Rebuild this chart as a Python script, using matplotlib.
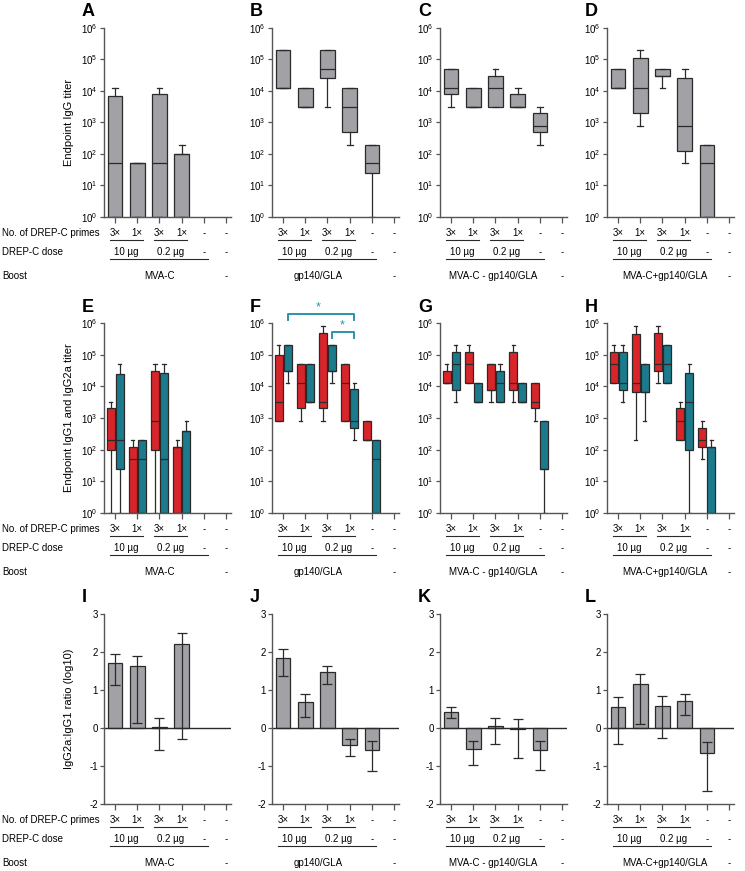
import matplotlib
matplotlib.use("Agg")
import matplotlib.pyplot as plt
import matplotlib.transforms as mtransforms
from matplotlib.ticker import LogLocator, NullLocator, FixedLocator

plt.rcParams["font.family"] = ["Liberation Sans", "DejaVu Sans"]
plt.rcParams["axes.unicode_minus"] = False

W, H = 745, 871

GRAY = "#a2a2a6"
RED = "#d9252a"
TEAL = "#1b7b8d"
SIG = "#2b95a8"
EDGE = "#2a2a2a"
AXC = "#555555"

# category labels under each panel
primes = ["3×", "1×", "3×", "1×", "-", "-"]
doses = ["10 µg", "0.2 µg", "-", "-"]
dose_pos = [0.5, 2.5, 4, 5]
boosts = ["MVA-C", "gp140/GLA", "MVA-C - gp140/GLA", "MVA-C+gp140/GLA"]
boost_pos = [2.0, 1.6, 1.9, 2.1]
letters = ["A", "B", "C", "D", "E", "F", "G", "H", "I", "J", "K", "L"]

# row 1: total IgG titer, (low, q1, median, q3, high) per group
A_igg = [(1, 1, 50, 7000, 12500), (1, 1, 50, 50, 50), (1, 1, 50, 8000, 12500),
         (1, 1, 100, 100, 200), None, None]
B_igg = [(12500, 12500, 12500, 200000, 200000), (3125, 3125, 3125, 12500, 12500),
         (3125, 25000, 50000, 200000, 200000), (200, 500, 3125, 12500, 12500),
         (1, 25, 50, 200, 200), None]
C_igg = [(3125, 7800, 12500, 50000, 50000), (3125, 3125, 3125, 12500, 12500),
         (3125, 3125, 12500, 31000, 50000), (3125, 3125, 3125, 7800, 12500),
         (200, 500, 800, 2000, 3125), None]
D_igg = [(12500, 12500, 12500, 50000, 50000), (800, 2000, 12500, 110000, 200000),
         (12500, 31000, 31000, 50000, 50000), (50, 125, 800, 25000, 50000),
         (1, 1, 50, 200, 200), None]

# row 2: IgG1 (red) and IgG2a (teal) titers
E_igg1 = [(1, 100, 200, 2000, 3125), (1, 1, 50, 125, 200), (1, 100, 800, 31000, 50000),
          (1, 1, 125, 125, 200), None, None]
E_igg2a = [(1, 25, 200, 25000, 50000), (1, 1, 50, 200, 200), (1, 1, 50, 27000, 50000),
           (1, 1, 400, 400, 800), None, None]
F_igg1 = [(800, 800, 3125, 100000, 200000), (800, 2000, 12500, 50000, 50000),
          (800, 2000, 3125, 500000, 800000), (800, 800, 12500, 50000, 50000),
          (200, 200, 200, 800, 800), None]
F_igg2a = [(12500, 31000, 31000, 200000, 200000), (3125, 3125, 3125, 50000, 50000),
           (12500, 31000, 31000, 200000, 200000), (200, 500, 800, 8000, 12500),
           (1, 1, 50, 200, 200), None]
G_igg1 = [(12500, 12500, 12500, 31000, 50000), (12500, 12500, 50000, 125000, 200000),
          (3125, 7800, 7800, 50000, 50000), (3125, 7800, 12500, 125000, 200000),
          (800, 2000, 3125, 12500, 12500), None]
G_igg2a = [(3125, 7800, 50000, 125000, 200000), (3125, 3125, 3125, 12500, 12500),
           (3125, 3125, 12500, 31000, 50000), (3125, 3125, 3125, 12500, 12500),
           (1, 25, 25, 800, 800), None]
H_igg1 = [(12500, 12500, 50000, 125000, 200000), (200, 6500, 12500, 440000, 800000),
          (12500, 31000, 50000, 500000, 800000), (200, 200, 800, 2000, 3125),
          (50, 125, 200, 500, 800), None]
H_igg2a = [(3125, 7800, 12500, 125000, 200000), (800, 6500, 6500, 50000, 50000),
           (12500, 12500, 50000, 200000, 200000), (1, 100, 3125, 27000, 50000),
           (1, 1, 125, 125, 200), None]

# row 3: IgG2a:IgG1 ratio (log10), bar value and error-bar ends
I_ratio = [1.72, 1.62, 0.02, 2.2]
I_lo = [1.13, 0.12, -0.58, -0.3]
I_hi = [1.96, 1.9, 0.26, 2.5]
J_ratio = [1.85, 0.69, 1.47, -0.46, -0.58]
J_lo = [1.36, 0.3, 1.16, -0.74, -1.12]
J_hi = [2.07, 0.89, 1.64, -0.3, -0.35]
K_ratio = [0.42, -0.55, 0.05, -0.03, -0.58]
K_lo = [0.27, -0.97, -0.43, -0.8, -1.1]
K_hi = [0.54, -0.34, 0.27, 0.23, -0.34]
L_ratio = [0.55, 1.15, 0.57, 0.71, -0.66]
L_lo = [-0.42, 0.1, -0.25, 0.33, -1.65]
L_hi = [0.82, 1.42, 0.83, 0.89, -0.38]

col_left = [104, 272, 440, 607]
row_top = [28, 323, 614]
row_bottom = [217, 513, 804]
AX_W = 126.5
ylabels = ["Endpoint IgG titer", "Endpoint IgG1 and IgG2a titer", "IgG2a:IgG1 ratio (log10)"]

fig = plt.figure(figsize=(W / 100, H / 100), dpi=100)


def make_ax(row, col):
    l, t, b = col_left[col], row_top[row], row_bottom[row]
    ax = fig.add_axes([l / W, (H - b) / H, AX_W / W, (b - t) / H])
    for s in ["top", "right"]:
        ax.spines[s].set_visible(False)
    for s in ["left", "bottom"]:
        ax.spines[s].set_color(AXC)
        ax.spines[s].set_linewidth(1.0)
    ax.set_xlim(-0.5, 5.2)
    ax.set_xticks(range(6))
    ax.set_xticklabels([])
    ax.tick_params(axis="x", length=4, width=0.9, color=AXC)
    ax.tick_params(axis="y", length=3, width=0.9, color=AXC, labelsize=7, pad=1.5)
    fig.text((l - 22) / W, (H - t + 16) / H, letters[row * 4 + col],
             fontsize=13, fontweight="bold", ha="left", va="center")
    if col == 0:
        fig.text(69 / W, (H - (t + b) / 2) / H, ylabels[row], rotation=90,
                 fontsize=8, ha="center", va="center")
    return ax


def log_axis(ax):
    ax.set_yscale("log")
    ax.set_ylim(1, 1e6)
    ax.yaxis.set_major_locator(LogLocator(base=10, numticks=10))
    ax.yaxis.set_minor_locator(NullLocator())


def draw_boxes(ax, stats, offset, width, color):
    st, pos = [], []
    for i, s in enumerate(stats):
        if s is None:
            continue
        lo, q1, med, q3, hi = s
        st.append(dict(whislo=lo, q1=q1, med=med, q3=q3, whishi=hi, fliers=[]))
        pos.append(i + offset)
    lp = dict(color=EDGE, linewidth=0.9)
    ax.bxp(st, positions=pos, widths=width, capwidths=width * 0.4, patch_artist=True,
           showfliers=False, manage_ticks=False,
           boxprops=dict(facecolor=color, edgecolor=EDGE, linewidth=0.9),
           medianprops=lp, whiskerprops=lp, capprops=lp)


def under_labels(ax, col, row):
    trans = mtransforms.blended_transform_factory(ax.transData, ax.transAxes)
    kw = dict(xycoords=trans, textcoords="offset pixels", ha="center", va="center",
              fontsize=7, annotation_clip=False)
    for i, s in enumerate(primes):
        ax.annotate(s, xy=(i, 0), xytext=(0, -16), **kw)
    for x, s in zip(dose_pos, doses):
        ax.annotate(s, xy=(x, 0), xytext=(0, -35), **kw)
    ax.annotate(boosts[col], xy=(boost_pos[col], 0), xytext=(0, -59), **kw)
    ax.annotate("-", xy=(5, 0), xytext=(0, -59), **kw)
    off1 = mtransforms.offset_copy(trans, fig=fig, y=-23, units="dots")
    off2 = mtransforms.offset_copy(trans, fig=fig, y=-42, units="dots")
    for x0, x1 in [(-0.25, 1.25), (1.75, 3.25)]:
        ax.plot([x0, x1], [0, 0], transform=off1, clip_on=False, color=EDGE, lw=0.8)
    ax.plot([-0.25, 4.2], [0, 0], transform=off2, clip_on=False, color=EDGE, lw=0.8)
    if col == 0:
        b = row_bottom[row]
        for dy, s in [(16, "No. of DREP-C primes"), (35, "DREP-C dose"), (59, "Boost")]:
            fig.text(2 / W, (H - b - dy) / H, s, fontsize=7, ha="left", va="center")


# row 1
for col, data in enumerate([A_igg, B_igg, C_igg, D_igg]):
    ax = make_ax(0, col)
    log_axis(ax)
    draw_boxes(ax, data, 0, 0.66, GRAY)
    under_labels(ax, col, 0)

# row 2
pairs = [(E_igg1, E_igg2a), (F_igg1, F_igg2a), (G_igg1, G_igg2a), (H_igg1, H_igg2a)]
for col, (g1, g2a) in enumerate(pairs):
    ax = make_ax(1, col)
    log_axis(ax)
    draw_boxes(ax, g1, -0.2, 0.36, RED)
    draw_boxes(ax, g2a, 0.2, 0.36, TEAL)
    under_labels(ax, col, 1)
    if col == 1:
        ax.plot([0.2, 0.2, 3.2, 3.2], [10 ** 6.1, 10 ** 6.28, 10 ** 6.28, 10 ** 6.1],
                color=SIG, lw=1.4, clip_on=False)
        ax.text(1.6, 10 ** 6.5, "*", color=SIG, fontsize=9, ha="center", va="center")
        ax.plot([2.2, 2.2, 3.2, 3.2], [10 ** 5.53, 10 ** 5.71, 10 ** 5.71, 10 ** 5.53],
                color=SIG, lw=1.4, clip_on=False)
        ax.text(2.65, 10 ** 5.92, "*", color=SIG, fontsize=9, ha="center", va="center")

# row 3
ratios = [(I_ratio, I_lo, I_hi), (J_ratio, J_lo, J_hi), (K_ratio, K_lo, K_hi),
          (L_ratio, L_lo, L_hi)]
for col, (vals, lo, hi) in enumerate(ratios):
    ax = make_ax(2, col)
    ax.set_ylim(-2, 3)
    ax.yaxis.set_major_locator(FixedLocator([-2, -1, 0, 1, 2, 3]))
    x = list(range(len(vals)))
    ax.bar(x, vals, width=0.66, color=GRAY, edgecolor=EDGE, linewidth=0.9)
    yerr = [[v - l for v, l in zip(vals, lo)], [h - v for v, h in zip(vals, hi)]]
    ax.errorbar(x, vals, yerr=yerr, fmt="none", ecolor=EDGE, elinewidth=0.9,
                capsize=3.5, capthick=0.9)
    ax.axhline(0, color=EDGE, lw=1.0)
    under_labels(ax, col, 2)

fig.savefig("out.png", dpi=100)
